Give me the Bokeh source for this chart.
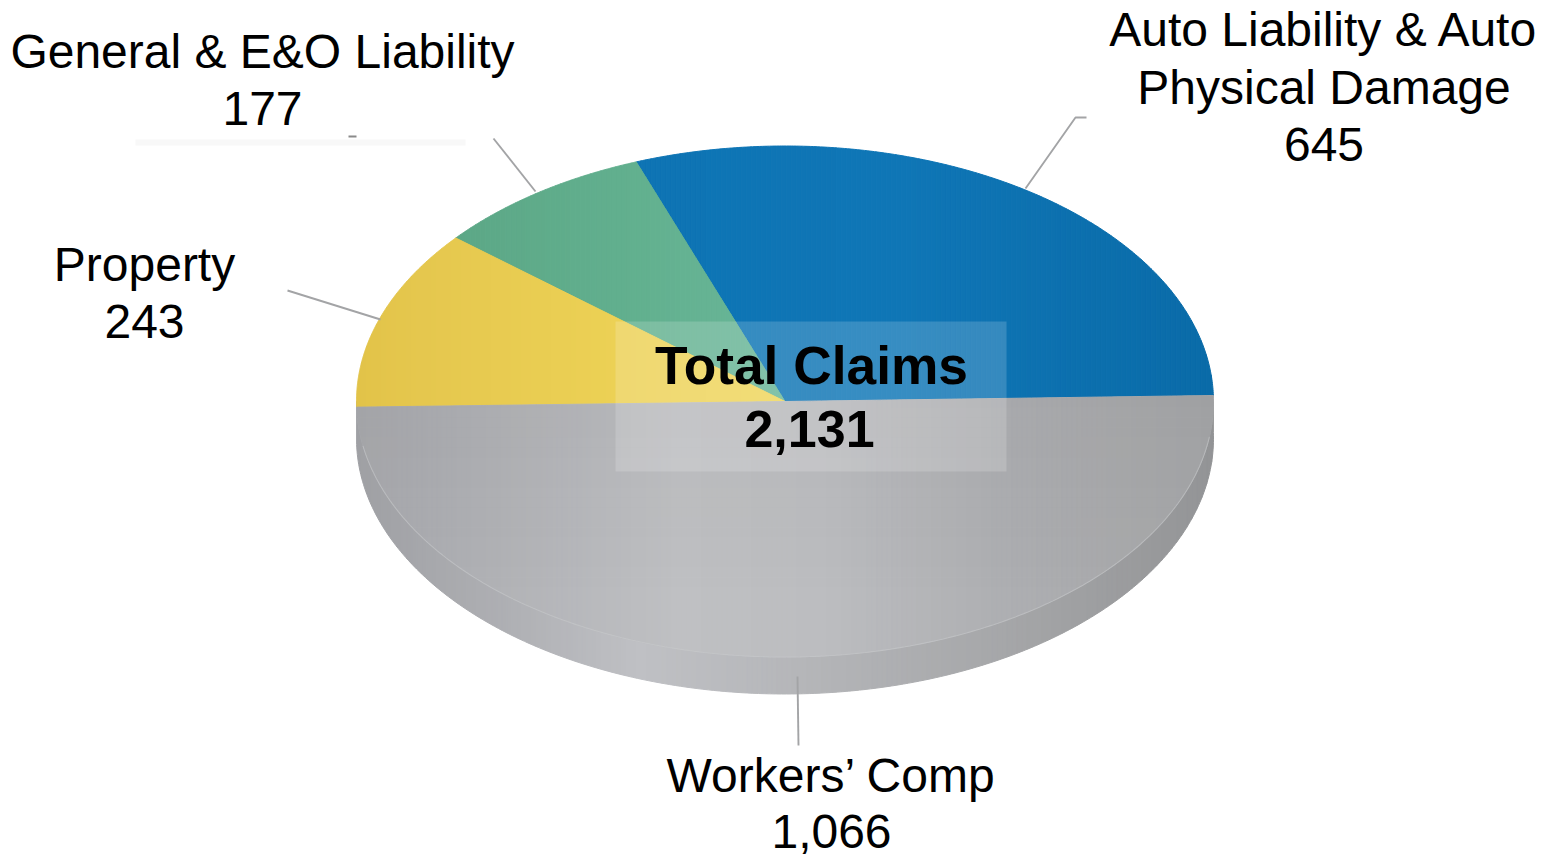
import math
import numpy as np
from bokeh.plotting import figure
from bokeh.models import Range1d
from bokeh.core.properties import value
from bokeh.embed import file_html
from bokeh.resources import INLINE

# ---- data ----
categories = ["Auto Liability & Auto\nPhysical Damage", "General & E&O Liability", "Property", "Workers\u2019 Comp"]
claims = [645, 177, 243, 1066]
total_title = "Total Claims"
total_claims = sum(claims)

# ---- layout / style ----
CX, CY, RX, RY = 784.5, 401.0, 428.5, 255.5
DEPTH = 37.0
START_DEG = 1.35
FONT = "Liberation Sans"
label_x = [1323.5, 262, 144, 831]
label_y0 = [47, 69, 281.5, 793]
label_lh = [57.5, 57, 57.3, 55.5]
LABEL_DY = -18
BOLD_DY = -20
slice_stops = [
    ([640, 900, 1213], ["#0e74b4", "#0f76b6", "#0a6ba8"]),
    ([455, 640, 780], ["#5ca786", "#62b08f", "#69b698"]),
    ([356, 420, 620, 790], ["#e2c348", "#e5c74e", "#ecd155", "#efd65c"]),
    ([356, 480, 680, 820, 1000, 1213], ["#a8a9ad", "#b0b1b5", "#bfc0c3", "#bcbdc0", "#aeafb2", "#a5a6a8"]),
]
rim_stops = ([356, 500, 640, 800, 1000, 1213], ["#9fa0a4", "#aeafb3", "#bfc0c4", "#b5b6b9", "#a6a7a9", "#939496"])
leaders = [
    ([1086, 1075, 1025], [117, 117, 188]),
    ([493, 535], [138, 191]),
    ([287, 380], [290, 319]),
    ([797, 798], [676, 745]),
]


def hex2rgb(h):
    return np.array([int(h[i:i + 2], 16) for i in (1, 3, 5)], float)


def color_at(x, stops):
    xs, cs = stops
    rgb = np.array([hex2rgb(c) for c in cs])
    v = [np.interp(x, xs, rgb[:, k]) for k in range(3)]
    return "#%02x%02x%02x" % tuple(int(round(c)) for c in v)


def clip(poly, lim, keep_low, axis=0):
    out = []
    n = len(poly)
    inside = (lambda q: q[axis] <= lim) if keep_low else (lambda q: q[axis] >= lim)
    for i in range(n):
        a, b = poly[i], poly[(i + 1) % n]
        ia, ib = inside(a), inside(b)
        if ia:
            out.append(a)
        if ia != ib:
            t = (lim - a[axis]) / (b[axis] - a[axis])
            out.append((a[0] + t * (b[0] - a[0]), a[1] + t * (b[1] - a[1])))
    return out


def strips(poly, stops, step=5.0):
    xs0 = [q[0] for q in poly]
    lo, hi = min(xs0), max(xs0)
    X, Y, C = [], [], []
    x = lo
    while x < hi:
        q = clip(clip(poly, x, False), x + step, True)
        if len(q) >= 3:
            X.append([r[0] for r in q])
            Y.append([r[1] for r in q])
            C.append(color_at(x + step / 2, stops))
        x += step
    return X, Y, C


def arc(a0, a1, cy=CY, n=240):
    t = np.radians(np.linspace(a0, a1, n))
    return [(CX + RX * math.cos(v), cy - RY * math.sin(v)) for v in t]


p = figure(width=1553, height=856, x_range=Range1d(0, 1553), y_range=Range1d(856, 0),
           output_backend="svg", toolbar_location=None, min_border=0, outline_line_color=None)
p.axis.visible = False
p.grid.visible = False
p.background_fill_color = "white"

# faint scan residue under the upper-left label
p.line([135, 465], [142, 142], line_color="#f8f8f8", line_width=6)
p.line([348, 356], [136, 136], line_color="#8a8a8a", line_width=2)

# rim (extruded lower half of the disc)
rim_arc = arc(180 + START_DEG, 360 + START_DEG, CY + DEPTH)
rim_poly = rim_arc + [(rim_arc[-1][0], CY), (rim_arc[0][0], CY)]
X, Y, C = strips(rim_poly, rim_stops)
p.patches(X, Y, fill_color=C, line_color=C, line_width=1)

# slices, sized from the values
total = sum(claims)
ang = START_DEG
grey_poly = None
for val, stops in zip(claims, slice_stops):
    sweep = 360.0 * val / total
    poly = [(CX, CY)] + arc(ang, ang + sweep)
    X, Y, C = strips(poly, stops)
    p.patches(X, Y, fill_color=C, line_color=C, line_width=1)
    grey_poly = poly
    ang += sweep

# vertical shading of the big slice: darker towards the top
y = CY - 14
ymax = 600
while y < ymax:
    q = clip(clip(grey_poly, y, False, axis=1), y + 10, True, axis=1)
    if len(q) >= 3:
        a = 0.03 * (ymax - y) / (ymax - CY)
        p.patch([r[0] for r in q], [r[1] for r in q], fill_color="#000000", fill_alpha=a, line_color=None)
    y += 10

# highlight along the front edge of the top face
hl = arc(190, 352)
p.line([q[0] for q in hl], [q[1] for q in hl], line_color="#c9cacc", line_width=1.1, line_alpha=0.55)

# leader lines
for lx, ly in leaders:
    p.line(lx, ly, line_color="#a3a4a6", line_width=1.9)

# translucent box behind the total
p.quad(left=[615], right=[1006], top=[321], bottom=[471], fill_color="white", fill_alpha=0.17, line_color=None)

# labels
for name, val, x, y0, lh in zip(categories, claims, label_x, label_y0, label_lh):
    lines = name.split("\n") + [f"{val:,}"]
    for i, t in enumerate(lines):
        p.text([x], [y0 + i * lh + LABEL_DY], text=[t], text_font=value(FONT), text_font_size="48px",
               text_color="#000000", text_align="center", text_baseline="alphabetic")

p.text([811], [385 + BOLD_DY], text=[total_title], text_font=value(FONT), text_font_size="53.3px", text_font_style="bold",
       text_color="#000000", text_align="center", text_baseline="alphabetic")
p.text([809], [448 + BOLD_DY], text=[f"{total_claims:,}"], text_font=value(FONT), text_font_size="52px", text_font_style="bold",
       text_color="#000000", text_align="center", text_baseline="alphabetic")

open("out.html", "w").write(file_html(p, INLINE))
